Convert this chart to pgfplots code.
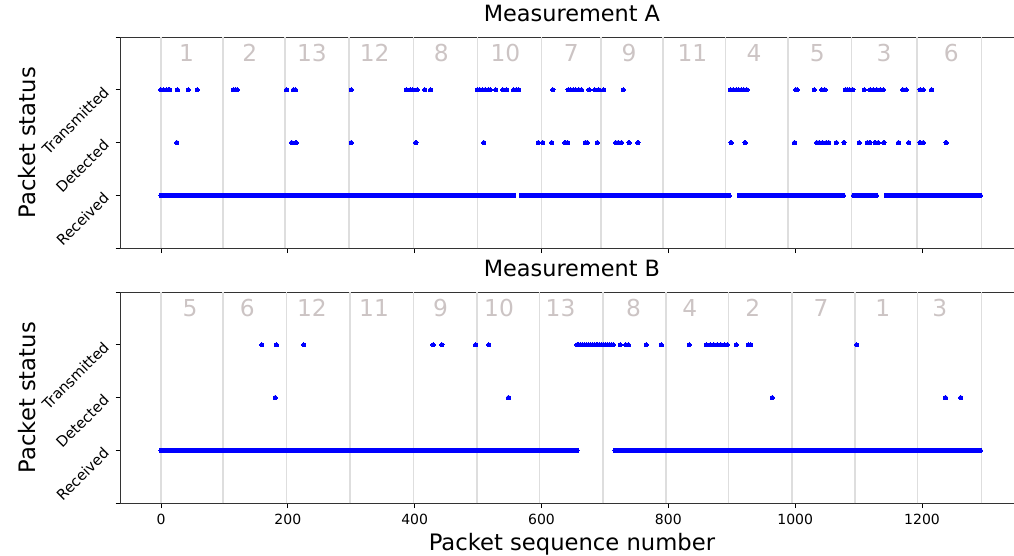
\documentclass[border=0pt]{standalone}
\usepackage{pgfplots}
\pgfplotsset{compat=1.18}
\usepackage{fontspec}
\setmainfont{DejaVu Sans}

\definecolor{segline}{RGB}{222,222,222}
\definecolor{segtext}{RGB}{204,196,196}
\definecolor{dotblue}{RGB}{0,0,255}

\tikzset{segnum/.style={text=segtext, font=\fontsize{17.5}{20}\selectfont, anchor=center}}

\pgfplotsset{
  dots/.style={only marks, mark=*, mark size=1.6pt, color=dotblue,
    mark options={solid, draw=dotblue, fill=dotblue, line width=0pt}},
  statusaxis/.style={
    scale only axis, width=677.3pt, height=158.5pt, anchor=north west,
    xmin=-64, xmax=1360, ymin=-1, ymax=3,
    xtick={0,200,...,1200},
    ytick={-1,0,1,2,3}, yticklabels={,Received,Detected,Transmitted,},
    xtick pos=bottom, ytick pos=left,
    tick align=outside, major tick length=3.6pt,
    tick style={black, line width=0.6pt},
    axis line style={line width=0.6pt, black!80},
    xticklabel style={font=\fontsize{10.5}{12}\selectfont, yshift=-1.2pt},
    /pgf/number format/assume math mode=true,
    /pgf/number format/1000 sep={},
    yticklabel style={font=\fontsize{11}{13}\selectfont, xshift=-4.6pt, yshift=2.6pt, rotate=45, anchor=east},
    title style={font=\fontsize{16.8}{20}\selectfont, at={(0.5,1)}, anchor=south, yshift=1.7pt},
    ylabel={Packet status},
    ylabel style={font=\fontsize{17}{20}\selectfont, at={(axis description cs:-0.1035,0.5)}, anchor=center},
    extra x tick labels={},
    extra x tick style={grid=major, major grid style={segline, line width=1.2pt}, major tick length=0pt},
  },
}

\begin{document}
\begin{tikzpicture}

% ---------------- Measurement A ----------------
\begin{axis}[statusaxis, at={(90.3pt,-27.75pt)}, title={Measurement A},
  xticklabels={},
  extra x ticks={0,98,196,296,398,499,600,694,792,890,989,1089,1192,1294}]
% received
\addplot[dots] coordinates {
(0,0)(4,0)(8,0)(12,0)(16,0)(20,0)(24,0)(28,0)(32,0)(36,0)(40,0)(44,0)(48,0)(52,0)(56,0)(60,0)(64,0)(68,0)(72,0)(76,0)(80,0)(84,0)(88,0)(92,0)(96,0)
(100,0)(104,0)(108,0)(112,0)(116,0)(120,0)(124,0)(128,0)(132,0)(136,0)(140,0)(144,0)(148,0)(152,0)(156,0)(160,0)(164,0)(168,0)(172,0)(176,0)(180,0)(184,0)(188,0)(192,0)(196,0)
(200,0)(204,0)(208,0)(212,0)(216,0)(220,0)(224,0)(228,0)(232,0)(236,0)(240,0)(244,0)(248,0)(252,0)(256,0)(260,0)(264,0)(268,0)(272,0)(276,0)(280,0)(284,0)(288,0)(292,0)(296,0)
(300,0)(304,0)(308,0)(312,0)(316,0)(320,0)(324,0)(328,0)(332,0)(336,0)(340,0)(344,0)(348,0)(352,0)(356,0)(360,0)(364,0)(368,0)(372,0)(376,0)(380,0)(384,0)(388,0)(392,0)(396,0)
(400,0)(404,0)(408,0)(412,0)(416,0)(420,0)(424,0)(428,0)(432,0)(436,0)(440,0)(444,0)(448,0)(452,0)(456,0)(460,0)(464,0)(468,0)(472,0)(476,0)(480,0)(484,0)(488,0)(492,0)(496,0)
(500,0)(504,0)(508,0)(512,0)(516,0)(520,0)(524,0)(528,0)(532,0)(536,0)(540,0)(544,0)(548,0)(552,0)(556,0)(568,0)(572,0)(576,0)(580,0)(584,0)(588,0)(592,0)(596,0)
(600,0)(604,0)(608,0)(612,0)(616,0)(620,0)(624,0)(628,0)(632,0)(636,0)(640,0)(644,0)(648,0)(652,0)(656,0)(660,0)(664,0)(668,0)(672,0)(676,0)(680,0)(684,0)(688,0)(692,0)(696,0)
(700,0)(704,0)(708,0)(712,0)(716,0)(720,0)(724,0)(728,0)(732,0)(736,0)(740,0)(744,0)(748,0)(752,0)(756,0)(760,0)(764,0)(768,0)(772,0)(776,0)(780,0)(784,0)(788,0)(792,0)(796,0)
(800,0)(804,0)(808,0)(812,0)(816,0)(820,0)(824,0)(828,0)(832,0)(836,0)(840,0)(844,0)(848,0)(852,0)(856,0)(860,0)(864,0)(868,0)(872,0)(876,0)(880,0)(884,0)(888,0)(892,0)(896,0)
(912,0)(916,0)(920,0)(924,0)(928,0)(932,0)(936,0)(940,0)(944,0)(948,0)(952,0)(956,0)(960,0)(964,0)(968,0)(972,0)(976,0)(980,0)(984,0)(988,0)(992,0)(996,0)
(1000,0)(1004,0)(1008,0)(1012,0)(1016,0)(1020,0)(1024,0)(1028,0)(1032,0)(1036,0)(1040,0)(1044,0)(1048,0)(1052,0)(1056,0)(1060,0)(1064,0)(1068,0)(1072,0)(1076,0)(1092,0)(1096,0)
(1100,0)(1104,0)(1108,0)(1112,0)(1116,0)(1120,0)(1124,0)(1128,0)(1144,0)(1148,0)(1152,0)(1156,0)(1160,0)(1164,0)(1168,0)(1172,0)(1176,0)(1180,0)(1184,0)(1188,0)(1192,0)(1196,0)
(1200,0)(1204,0)(1208,0)(1212,0)(1216,0)(1220,0)(1224,0)(1228,0)(1232,0)(1236,0)(1240,0)(1244,0)(1248,0)(1252,0)(1256,0)(1260,0)(1264,0)(1268,0)(1272,0)(1276,0)(1280,0)(1284,0)(1288,0)(1292,0)
};
% detected
\addplot[dots] coordinates {
(25,1)(206,1)(213,1)(300,1)(402,1)(509,1)(595,1)(602,1)(616,1)(637,1)(641,1)(669,1)(672,1)(688,1)
(717,1)(721,1)(726,1)(738,1)(752,1)(899,1)(921,1)(999,1)(1034,1)(1038,1)(1043,1)(1049,1)(1053,1)
(1065,1)(1077,1)(1101,1)(1114,1)(1118,1)(1126,1)(1131,1)(1140,1)(1163,1)(1179,1)(1197,1)(1202,1)(1238,1)
};
% transmitted
\addplot[dots] coordinates {
(0,2)(4,2)(9,2)(12,2)(14,2)(26,2)(43,2)(57,2)(114,2)(117,2)(120,2)(198,2)(209,2)(212,2)(300,2)
(387,2)(393,2)(397,2)(404,2)(416,2)(425,2)(499,2)(503,2)(507,2)(511,2)(516,2)(519,2)(528,2)(539,2)
(545,2)(556,2)(560,2)(564,2)(618,2)(642,2)(646,2)(650,2)(654,2)(659,2)(663,2)(675,2)(684,2)(690,2)
(698,2)(729,2)(898,2)(902,2)(907,2)(911,2)(915,2)(919,2)(924,2)(1001,2)(1003,2)(1030,2)(1042,2)
(1047,2)(1079,2)(1082,2)(1086,2)(1091,2)(1109,2)(1118,2)(1123,2)(1129,2)(1134,2)(1139,2)(1170,2)
(1175,2)(1197,2)(1202,2)(1215,2)
};
% segment numbers
\node[segnum] at (axis cs:40.5,2.7) {1};
\node[segnum] at (axis cs:140,2.7) {2};
\node[segnum] at (axis cs:238,2.7) {13};
\node[segnum] at (axis cs:337,2.7) {12};
\node[segnum] at (axis cs:442,2.7) {8};
\node[segnum] at (axis cs:543,2.7) {10};
\node[segnum] at (axis cs:647,2.7) {7};
\node[segnum] at (axis cs:738,2.7) {9};
\node[segnum] at (axis cs:838,2.7) {11};
\node[segnum] at (axis cs:935,2.7) {4};
\node[segnum] at (axis cs:1035,2.7) {5};
\node[segnum] at (axis cs:1140,2.7) {3};
\node[segnum] at (axis cs:1246,2.7) {6};
\end{axis}

% ---------------- Measurement B ----------------
\begin{axis}[statusaxis, at={(90.3pt,-219pt)}, title={Measurement B},
  xlabel={Packet sequence number},
  xlabel style={font=\fontsize{17}{20}\selectfont, at={(axis description cs:0.5,0)}, anchor=center, yshift=-30.5pt},
  extra x ticks={0,98,198,298,398,498,597,697,796,895,995,1094,1193,1294}]
% received
\addplot[dots] coordinates {
(0,0)(4,0)(8,0)(12,0)(16,0)(20,0)(24,0)(28,0)(32,0)(36,0)(40,0)(44,0)(48,0)(52,0)(56,0)(60,0)(64,0)(68,0)(72,0)(76,0)(80,0)(84,0)(88,0)(92,0)(96,0)
(100,0)(104,0)(108,0)(112,0)(116,0)(120,0)(124,0)(128,0)(132,0)(136,0)(140,0)(144,0)(148,0)(152,0)(156,0)(160,0)(164,0)(168,0)(172,0)(176,0)(180,0)(184,0)(188,0)(192,0)(196,0)
(200,0)(204,0)(208,0)(212,0)(216,0)(220,0)(224,0)(228,0)(232,0)(236,0)(240,0)(244,0)(248,0)(252,0)(256,0)(260,0)(264,0)(268,0)(272,0)(276,0)(280,0)(284,0)(288,0)(292,0)(296,0)
(300,0)(304,0)(308,0)(312,0)(316,0)(320,0)(324,0)(328,0)(332,0)(336,0)(340,0)(344,0)(348,0)(352,0)(356,0)(360,0)(364,0)(368,0)(372,0)(376,0)(380,0)(384,0)(388,0)(392,0)(396,0)
(400,0)(404,0)(408,0)(412,0)(416,0)(420,0)(424,0)(428,0)(432,0)(436,0)(440,0)(444,0)(448,0)(452,0)(456,0)(460,0)(464,0)(468,0)(472,0)(476,0)(480,0)(484,0)(488,0)(492,0)(496,0)
(500,0)(504,0)(508,0)(512,0)(516,0)(520,0)(524,0)(528,0)(532,0)(536,0)(540,0)(544,0)(548,0)(552,0)(556,0)(560,0)(564,0)(568,0)(572,0)(576,0)(580,0)(584,0)(588,0)(592,0)(596,0)
(600,0)(604,0)(608,0)(612,0)(616,0)(620,0)(624,0)(628,0)(632,0)(636,0)(640,0)(644,0)(648,0)(652,0)(656,0)
(716,0)(720,0)(724,0)(728,0)(732,0)(736,0)(740,0)(744,0)(748,0)(752,0)(756,0)(760,0)(764,0)(768,0)(772,0)(776,0)(780,0)(784,0)(788,0)(792,0)(796,0)
(800,0)(804,0)(808,0)(812,0)(816,0)(820,0)(824,0)(828,0)(832,0)(836,0)(840,0)(844,0)(848,0)(852,0)(856,0)(860,0)(864,0)(868,0)(872,0)(876,0)(880,0)(884,0)(888,0)(892,0)(896,0)
(900,0)(904,0)(908,0)(912,0)(916,0)(920,0)(924,0)(928,0)(932,0)(936,0)(940,0)(944,0)(948,0)(952,0)(956,0)(960,0)(964,0)(968,0)(972,0)(976,0)(980,0)(984,0)(988,0)(992,0)(996,0)
(1000,0)(1004,0)(1008,0)(1012,0)(1016,0)(1020,0)(1024,0)(1028,0)(1032,0)(1036,0)(1040,0)(1044,0)(1048,0)(1052,0)(1056,0)(1060,0)(1064,0)(1068,0)(1072,0)(1076,0)(1080,0)(1084,0)(1088,0)(1092,0)(1096,0)
(1100,0)(1104,0)(1108,0)(1112,0)(1116,0)(1120,0)(1124,0)(1128,0)(1132,0)(1136,0)(1140,0)(1144,0)(1148,0)(1152,0)(1156,0)(1160,0)(1164,0)(1168,0)(1172,0)(1176,0)(1180,0)(1184,0)(1188,0)(1192,0)(1196,0)
(1200,0)(1204,0)(1208,0)(1212,0)(1216,0)(1220,0)(1224,0)(1228,0)(1232,0)(1236,0)(1240,0)(1244,0)(1248,0)(1252,0)(1256,0)(1260,0)(1264,0)(1268,0)(1272,0)(1276,0)(1280,0)(1284,0)(1288,0)(1292,0)
};
% detected
\addplot[dots] coordinates {(180,1)(548,1)(964,1)(1237,1)(1261,1)};
% transmitted
\addplot[dots] coordinates {
(159,2)(182,2)(225,2)(429,2)(443,2)(496,2)(517,2)
(656,2)(659,2)(662,2)(665,2)(668,2)(671,2)(674,2)(677,2)(680,2)(683,2)(686,2)(689,2)(692,2)(695,2)
(698,2)(701,2)(704,2)(707,2)(710,2)(713,2)
(724,2)(733,2)(737,2)(765,2)(789,2)(833,2)(860,2)(866,2)(872,2)(877,2)(883,2)(889,2)(893,2)
(907,2)(926,2)(930,2)(1097,2)
};
% segment numbers
\node[segnum] at (axis cs:45.7,2.7) {5};
\node[segnum] at (axis cs:136,2.7) {6};
\node[segnum] at (axis cs:238,2.7) {12};
\node[segnum] at (axis cs:336,2.7) {11};
\node[segnum] at (axis cs:441,2.7) {9};
\node[segnum] at (axis cs:533,2.7) {10};
\node[segnum] at (axis cs:630,2.7) {13};
\node[segnum] at (axis cs:745,2.7) {8};
\node[segnum] at (axis cs:834,2.7) {4};
\node[segnum] at (axis cs:933,2.7) {2};
\node[segnum] at (axis cs:1041,2.7) {7};
\node[segnum] at (axis cs:1138,2.7) {1};
\node[segnum] at (axis cs:1228,2.7) {3};
\end{axis}

\pgfresetboundingbox
\useasboundingbox (0,0) rectangle (760.5pt,-417pt);
\end{tikzpicture}
\end{document}
